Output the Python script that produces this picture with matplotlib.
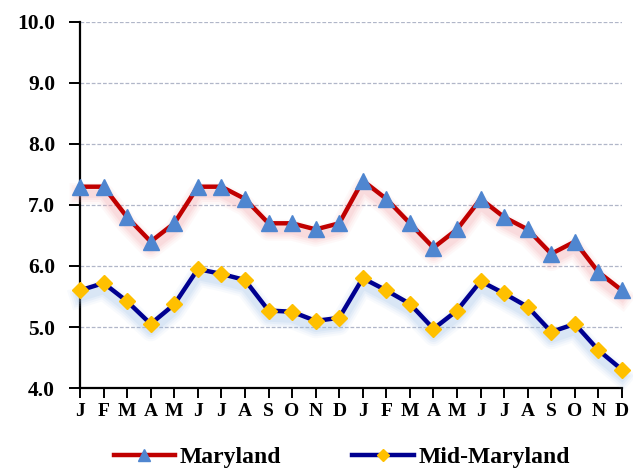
import matplotlib
matplotlib.use("Agg")
import matplotlib.pyplot as plt
import matplotlib.patheffects as pe
from matplotlib.lines import Line2D
import numpy as np

# --- data ---
months = ["J", "F", "M", "A", "M", "J", "J", "A", "S", "O", "N", "D",
          "J", "F", "M", "A", "M", "J", "J", "A", "S", "O", "N", "D"]
maryland = [7.3, 7.3, 6.8, 6.4, 6.7, 7.3, 7.3, 7.1, 6.7, 6.7, 6.6, 6.7,
            7.4, 7.1, 6.7, 6.3, 6.6, 7.1, 6.8, 6.6, 6.2, 6.4, 5.9, 5.6]
mid_maryland = [5.6, 5.72, 5.42, 5.05, 5.37, 5.95, 5.87, 5.77, 5.27, 5.25, 5.1, 5.15,
                5.8, 5.6, 5.38, 4.97, 5.27, 5.75, 5.55, 5.33, 4.92, 5.05, 4.62, 4.3]
yticks = [4.0, 5.0, 6.0, 7.0, 8.0, 9.0, 10.0]

SERIF = ["Liberation Serif", "DejaVu Serif"]
plt.rcParams["font.family"] = SERIF
plt.rcParams["font.weight"] = "bold"

fig = plt.figure(figsize=(6.33, 4.73), dpi=100)
ax = fig.add_axes([0.1264, 0.1797, 0.8562, 0.7738])

x = np.arange(len(months))


def glow(color):
    # soft blurred shadow under the line
    effs = []
    for lw, a in [(15, 0.07), (12, 0.09), (9, 0.12), (6, 0.15)]:
        effs.append(pe.SimpleLineShadow(offset=(0, -5), shadow_color=color,
                                        alpha=a, linewidth=lw))
    effs.append(pe.Normal())
    return effs


series = [
    ("Maryland", maryland, "#C00000", "^", "#4F86D0", 11, "#F4A0A8"),
    ("Mid-Maryland", mid_maryland, "#000090", "D", "#FFC000", 8, "#9CC0E8"),
]

handles = []
for name, vals, lc, mk, mc, ms, gc in series:
    ax.plot(x, vals, color=lc, lw=3.2, solid_joinstyle="round",
            path_effects=glow(gc), clip_on=False, zorder=3)
    ax.plot(x, vals, ls="none", marker=mk, ms=ms, mfc=mc, mec=mc,
            clip_on=False, zorder=4)
    handles.append(Line2D([], [], color=lc, lw=3.2, marker=mk, ms=ms * 0.8,
                          mfc=mc, mec=mc))

ax.set_xlim(0, len(months) - 1)
ax.set_ylim(4.0, 10.0)
ax.set_yticks(yticks)
ax.set_yticklabels([f"{v:.1f}" for v in yticks])
ax.set_xticks(x)
ax.set_xticklabels(months)

ax.grid(axis="y", color="#B0B6C8", lw=0.9, ls=(0, (3, 1.5)))
ax.set_axisbelow(True)
for s in ["top", "right"]:
    ax.spines[s].set_visible(False)
for s in ["left", "bottom"]:
    ax.spines[s].set_linewidth(1.6)
    ax.spines[s].set_color("black")

ax.tick_params(axis="y", direction="out", length=8, width=1.4, pad=10,
               labelsize=15.5)
ax.tick_params(axis="x", direction="out", length=7, width=1.4, pad=4,
               labelsize=14)

fig.legend(handles, ["Maryland", "Mid-Maryland"], loc="lower center",
           bbox_to_anchor=(0.54, -0.035), ncol=2, frameon=False,
           fontsize=17, handlelength=2.6, columnspacing=3.0,
           handletextpad=0.2)

fig.savefig("out.png", dpi=100)
